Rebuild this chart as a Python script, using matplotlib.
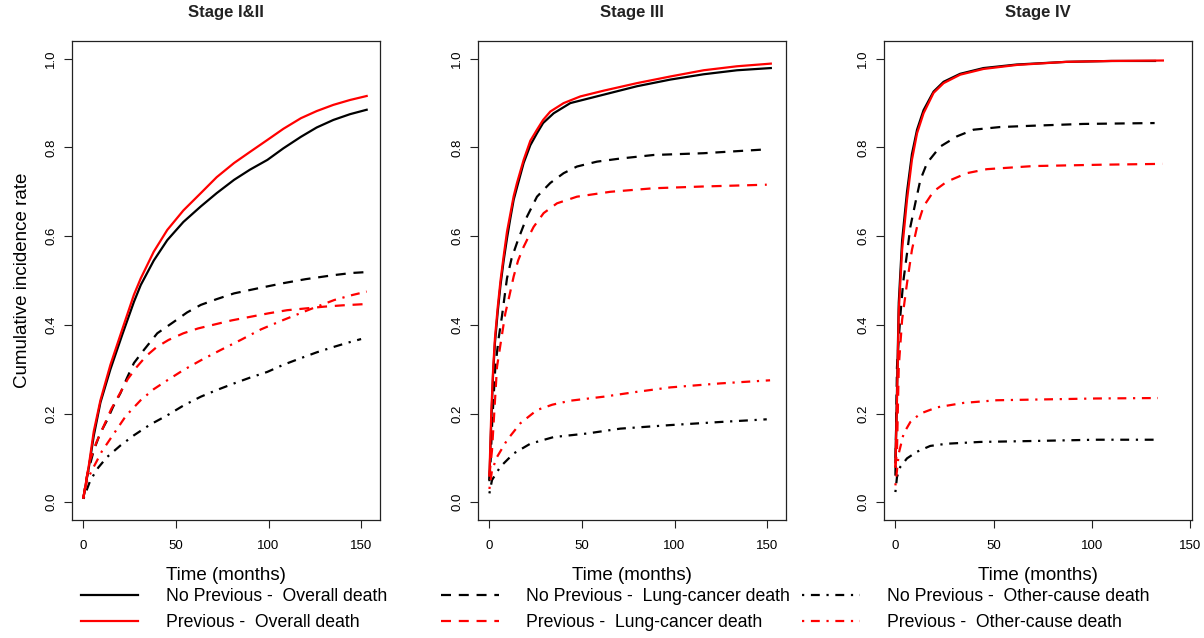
import numpy as np
import matplotlib
matplotlib.use('Agg')
import matplotlib.pyplot as plt
from matplotlib.lines import Line2D

plt.rcParams['font.family'] = ['Liberation Sans', 'DejaVu Sans']

titles = ['Stage I&II', 'Stage III', 'Stage IV']
xticks = [0, 50, 100, 150]
yticks = [0.0, 0.2, 0.4, 0.6, 0.8, 1.0]
xlims = [(-6.16, 160.2), (-6.16, 160.2), (-5.8, 150.8)]

labels = ['No Previous -  Overall death', 'Previous -  Overall death',
          'No Previous -  Lung-cancer death', 'Previous -  Lung-cancer death',
          'No Previous -  Other-cause death', 'Previous -  Other-cause death']

# ---- Stage I&II ----
t12_all_no = [0, 3, 5.6, 9.2, 14.6, 21, 27.3, 31, 38, 45.3, 54, 63.4, 72, 81.4, 90, 99.4, 108, 117.5, 126, 135, 144, 153]
v12_all_no = [0.01, 0.08, 0.15, 0.225, 0.30, 0.378, 0.452, 0.49, 0.545, 0.591, 0.632, 0.667, 0.697, 0.727, 0.75, 0.772, 0.798, 0.824, 0.845, 0.862, 0.875, 0.885]
t12_all_pr = [0, 3, 5.6, 9.2, 14.6, 21, 27.3, 31, 38, 45.3, 54, 63.4, 72, 81.4, 90, 99.4, 108, 117.5, 126, 135, 144, 153]
v12_all_pr = [0.01, 0.085, 0.16, 0.23, 0.31, 0.39, 0.468, 0.505, 0.565, 0.614, 0.658, 0.697, 0.733, 0.765, 0.79, 0.817, 0.842, 0.866, 0.882, 0.896, 0.907, 0.916]
t12_lc_no = [0, 2, 5.6, 9, 12.8, 16, 20, 23.5, 27.3, 32.6, 39.9, 48.9, 56, 63.4, 72, 81.4, 95, 108, 120, 135, 145, 153]
v12_lc_no = [0.01, 0.06, 0.117, 0.155, 0.185, 0.215, 0.246, 0.28, 0.314, 0.343, 0.381, 0.407, 0.428, 0.445, 0.458, 0.471, 0.483, 0.494, 0.503, 0.512, 0.517, 0.519]
t12_lc_pr = [0, 1.5, 3.6, 7, 10.8, 15, 19.8, 24, 28.8, 34, 39.6, 46, 54, 62, 70, 80, 90, 100, 110, 120, 130, 140, 153]
v12_lc_pr = [0.01, 0.05, 0.095, 0.135, 0.17, 0.21, 0.246, 0.278, 0.305, 0.33, 0.35, 0.366, 0.381, 0.392, 0.40, 0.41, 0.418, 0.426, 0.433, 0.437, 0.441, 0.444, 0.447]
t12_oc_no = [0, 3.8, 8, 12.8, 20, 27.3, 36, 45.3, 54, 63.4, 72, 81.4, 90, 99.4, 108, 117.5, 126, 135, 143, 150]
v12_oc_no = [0.008, 0.05, 0.078, 0.102, 0.128, 0.151, 0.175, 0.196, 0.218, 0.238, 0.253, 0.268, 0.281, 0.294, 0.31, 0.325, 0.338, 0.35, 0.36, 0.368]
t12_oc_pr = [0, 2, 5.6, 10, 16.5, 23, 30.9, 38, 45.3, 54, 63.4, 74, 85, 96, 108, 123, 135.5, 145, 153]
v12_oc_pr = [0.01, 0.05, 0.08, 0.115, 0.155, 0.195, 0.23, 0.255, 0.275, 0.298, 0.32, 0.343, 0.366, 0.39, 0.411, 0.436, 0.456, 0.467, 0.475]

# ---- Stage III ----
t3_all_no = [0, 1, 2, 3, 4.5, 6, 7.7, 9.5, 11.3, 13.1, 14.9, 18.5, 22.1, 25.7, 29, 34.7, 43.7, 61.7, 79.7, 97.7, 115.7, 133.7, 152]
v3_all_no = [0.05, 0.18, 0.29, 0.36, 0.43, 0.49, 0.545, 0.595, 0.64, 0.682, 0.71, 0.765, 0.805, 0.832, 0.855, 0.877, 0.9, 0.919, 0.938, 0.953, 0.965, 0.974, 0.979]
t3_all_pr = [0, 1, 2, 3, 4.5, 6, 7.7, 9.5, 11.3, 13.1, 14.9, 18.5, 22.1, 25.7, 29, 32.9, 40.1, 49.1, 61.7, 79.7, 97.7, 115.7, 133.7, 152]
v3_all_pr = [0.06, 0.2, 0.3, 0.37, 0.44, 0.5, 0.555, 0.61, 0.65, 0.69, 0.72, 0.772, 0.815, 0.84, 0.862, 0.881, 0.9, 0.915, 0.928, 0.945, 0.96, 0.974, 0.983, 0.989]
t3_lc_no = [0, 0.5, 1.5, 3.2, 5, 6.8, 9.5, 12, 14.9, 16.7, 20.3, 25.7, 32.9, 40.1, 47.3, 58.1, 70.7, 88.7, 115.7, 147]
v3_lc_no = [0.05, 0.08, 0.18, 0.305, 0.37, 0.42, 0.505, 0.55, 0.585, 0.605, 0.644, 0.689, 0.72, 0.742, 0.757, 0.768, 0.775, 0.783, 0.787, 0.795]
t3_lc_pr = [0, 1.4, 4.1, 6.5, 8.6, 10.5, 13.1, 15.5, 18.5, 21.2, 23.9, 29.3, 36.5, 47.3, 65.3, 88.7, 115.7, 149.8]
v3_lc_pr = [0.06, 0.117, 0.305, 0.37, 0.426, 0.46, 0.509, 0.545, 0.576, 0.599, 0.621, 0.652, 0.674, 0.689, 0.70, 0.708, 0.712, 0.716]
t3_oc_no = [0, 1.4, 5.9, 13.1, 22.1, 34.7, 52.7, 70.7, 97.7, 124.7, 149.8]
v3_oc_no = [0.02, 0.05, 0.08, 0.11, 0.132, 0.147, 0.155, 0.166, 0.174, 0.181, 0.187]
t3_oc_pr = [0, 1.4, 4.1, 9.5, 16.7, 25.7, 34, 43.7, 61.7, 79.7, 97.7, 124.7, 151.6]
v3_oc_pr = [0.03, 0.072, 0.102, 0.14, 0.178, 0.208, 0.22, 0.229, 0.238, 0.249, 0.259, 0.268, 0.275]

# ---- Stage IV ----
t4_all_no = [0, 0.8, 1.7, 3.4, 5.9, 8.4, 11, 14.3, 19.4, 24.5, 32.9, 44.8, 61.7, 87, 110, 132]
v4_all_no = [0.09, 0.25, 0.45, 0.59, 0.70, 0.785, 0.84, 0.884, 0.926, 0.948, 0.966, 0.979, 0.987, 0.993, 0.995, 0.995]
t4_all_pr = [0, 0.8, 1.7, 3.4, 5.9, 8.4, 11, 14.3, 19.4, 24.5, 32.9, 44.8, 61.7, 87, 110, 136]
v4_all_pr = [0.08, 0.23, 0.43, 0.569, 0.682, 0.772, 0.832, 0.877, 0.923, 0.945, 0.964, 0.977, 0.986, 0.993, 0.995, 0.996]
t4_lc_no = [0, 0.8, 2.5, 3.9, 5.9, 7.6, 10.1, 12.7, 16.1, 22.8, 31.3, 39.7, 53.2, 70, 95.4, 131.8]
v4_lc_no = [0.06, 0.305, 0.42, 0.494, 0.561, 0.621, 0.674, 0.727, 0.765, 0.802, 0.825, 0.84, 0.846, 0.849, 0.853, 0.855]
t4_lc_pr = [0, 0.8, 1.7, 3.4, 5.9, 8.4, 11, 14.3, 19.4, 26.2, 36.3, 46.5, 70, 103.9, 136]
v4_lc_pr = [0.08, 0.117, 0.305, 0.411, 0.494, 0.569, 0.621, 0.667, 0.701, 0.723, 0.742, 0.751, 0.758, 0.761, 0.763]
t4_oc_no = [0, 0.8, 2.5, 5.9, 11, 17.7, 26.2, 43.1, 68.4, 102.2, 131.8]
v4_oc_no = [0.023, 0.057, 0.08, 0.099, 0.114, 0.127, 0.132, 0.136, 0.138, 0.141, 0.141]
t4_oc_pr = [0, 1.7, 4.2, 7.6, 12.7, 21.1, 34.6, 51.5, 76.9, 102.2, 133.5]
v4_oc_pr = [0.038, 0.11, 0.155, 0.181, 0.20, 0.214, 0.224, 0.23, 0.232, 0.234, 0.235]

panels = [
    [(t12_all_no, v12_all_no), (t12_all_pr, v12_all_pr), (t12_lc_no, v12_lc_no),
     (t12_lc_pr, v12_lc_pr), (t12_oc_no, v12_oc_no), (t12_oc_pr, v12_oc_pr)],
    [(t3_all_no, v3_all_no), (t3_all_pr, v3_all_pr), (t3_lc_no, v3_lc_no),
     (t3_lc_pr, v3_lc_pr), (t3_oc_no, v3_oc_no), (t3_oc_pr, v3_oc_pr)],
    [(t4_all_no, v4_all_no), (t4_all_pr, v4_all_pr), (t4_lc_no, v4_lc_no),
     (t4_lc_pr, v4_lc_pr), (t4_oc_no, v4_oc_no), (t4_oc_pr, v4_oc_pr)],
]

# styles: black = no previous, red = previous
lw = 1.6
colors = ['black', 'red', 'black', 'red', 'black', 'red']
dashes = [None, None, (4.5, 3.5), (4.5, 3.5), (1, 3, 4, 3), (1, 3, 4, 3)]
draw_order = [0, 2, 4, 1, 3, 5]

fig = plt.figure(figsize=(12.04, 6.38), dpi=100)
lefts = [72 / 1204, 478 / 1204, 884 / 1204]

for i, left in enumerate(lefts):
    ax = fig.add_axes([left, 118 / 638, 308 / 1204, 479 / 638])
    for k in draw_order:
        t, v = panels[i][k]
        line, = ax.plot(t, v, color=colors[k], lw=lw)
        if dashes[k] is not None:
            line.set_dashes(dashes[k])
    ax.set_xlim(*xlims[i])
    ax.set_ylim(-0.04, 1.04)
    ax.set_xticks(xticks)
    ax.set_yticks(yticks)
    ax.set_yticklabels([f'{y:.1f}' for y in yticks])
    ax.tick_params(direction='out', length=5.5, width=0.8, labelsize=9.5, color='#222222')
    ax.tick_params(axis='x', pad=9)
    ax.tick_params(axis='y', pad=5)
    for lab in ax.get_yticklabels():
        lab.set_rotation(90)
        lab.set_va('center')
    for sp in ax.spines.values():
        sp.set_linewidth(0.9)
        sp.set_color('#222222')
    ax.set_title(titles[i], fontsize=12, fontweight='bold', pad=17, color='#222222')
    ax.set_xlabel('Time (months)', fontsize=13.5, labelpad=11)
    if i == 0:
        ax.set_ylabel('Cumulative incidence rate', fontsize=13.5, labelpad=10.5)

# legend: three columns of two rows each
handles = []
for k in range(6):
    h = Line2D([], [], color=colors[k], lw=lw)
    if dashes[k] is not None:
        h.set_dashes(dashes[k])
    handles.append(h)

col_x = [80.7 / 1204, 441 / 1204, 802 / 1204]
for c in range(3):
    fig.legend(handles[2 * c:2 * c + 2], labels[2 * c:2 * c + 2],
               loc='upper left', bbox_to_anchor=(col_x[c], 50 / 638),
               frameon=False, fontsize=12.7, borderpad=0, borderaxespad=0,
               handlelength=3.27, handletextpad=1.57, labelspacing=0.52)

fig.savefig('out.png', dpi=100)
